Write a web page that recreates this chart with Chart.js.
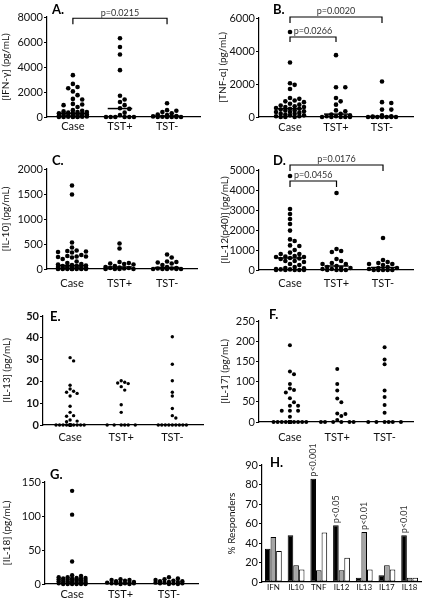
<!DOCTYPE html>
<html>
<head>
<meta charset="utf-8">
<script src="https://cdn.jsdelivr.net/npm/chart.js@4.4.0/dist/chart.umd.min.js"></script>
<style>
  html, body { margin: 0; padding: 0; background: #fff; }
  #page { position: relative; width: 425px; height: 601px; }
  #page canvas { position: absolute; left: 0; top: 0; }
</style>
</head>
<body>
<div id="page"></div>
<script>
const groupLabels = ['Case', 'TST+', 'TST-'];

// A. IFN-gamma
const ifnCase = [3350, 2650, 2400, 2300, 2050, 1750, 1450, 1400, 1050, 1000, 950, 800, 550, 500, 450, 400, 400, 350, 300, 300, 250, 250, 200, 200, 150, 150, 100, 100, 100, 50, 50, 50, 20, 20, 10, 0, 0, 0];
const ifnTstPos = [6300, 5600, 5000, 3750, 1700, 1400, 1200, 950, 700, 650, 350, 150, 0, 0, 0, 0, 0, 0];
const ifnTstNeg = [1100, 550, 500, 400, 300, 200, 150, 80, 50, 20, 0, 0, 0, 0, 0];

// B. TNF-alpha
const tnfCase = [5150, 3300, 2050, 1950, 1700, 1150, 1100, 1000, 950, 900, 800, 750, 700, 650, 600, 600, 550, 500, 500, 450, 400, 400, 350, 300, 300, 250, 200, 200, 150, 100, 100, 50, 50, 0, 0, 0];
const tnfTstPos = [3750, 1800, 1800, 1150, 950, 750, 400, 350, 200, 150, 100, 50, 50, 0, 0, 0, 0, 0];
const tnfTstNeg = [2150, 900, 850, 450, 450, 100, 50, 30, 0, 0, 0, 0, 0, 0, 0];

// C. IL-10
const il10Case = [1670, 1490, 530, 430, 370, 360, 350, 340, 330, 280, 260, 250, 250, 240, 230, 200, 150, 120, 100, 90, 80, 70, 60, 60, 50, 50, 40, 40, 30, 30, 20, 20, 10, 10, 10, 0, 0, 0, 0, 0, 0, 0, 0];
const il10TstPos = [510, 410, 140, 120, 110, 100, 90, 60, 40, 30, 20, 20, 10, 0, 0, 0, 0];
const il10TstNeg = [290, 230, 150, 140, 130, 110, 80, 40, 20, 10, 10, 0, 0, 0, 0, 0];

// D. IL-12(p40)
const il12Case = [4700, 3050, 2800, 2550, 2300, 1970, 1530, 1450, 1230, 1200, 1000, 870, 800, 800, 700, 670, 650, 650, 600, 580, 550, 450, 450, 400, 300, 250, 150, 100, 80, 50, 30, 30, 0, 0, 0, 0, 0];
const il12TstPos = [3850, 1050, 950, 900, 550, 450, 350, 300, 300, 200, 150, 100, 100, 50, 50, 0, 0, 0, 0];
const il12TstNeg = [1600, 500, 400, 350, 300, 300, 250, 150, 100, 100, 50, 0, 0, 0, 0, 0];

// E. IL-13
const il13Case = [30.9, 29.4, 18.2, 16.5, 15.5, 15, 14.5, 13.3, 8.6, 5.8, 4.3, 4, 2.3, 1.8, 1.5, 0, 0, 0, 0, 0, 0, 0, 0, 0, 0, 0, 0, 0, 0, 0, 0, 0, 0, 0, 0];
const il13TstPos = [20.3, 19.6, 19.3, 19, 17.6, 16, 9.3, 5.8, 0, 0, 0, 0, 0, 0];
const il13TstNeg = [40.5, 27.9, 20.3, 15, 13.3, 7.6, 4.3, 3.2, 0, 0, 0, 0, 0, 0, 0, 0, 0];

// F. IL-17
const il17Case = [190, 125, 118, 94, 83, 79, 73, 59, 49, 40, 40, 28, 28, 28, 13, 0, 0, 0, 0, 0, 0, 0, 0, 0, 0, 0, 0, 0, 0, 0, 0];
const il17TstPos = [131, 94, 78, 58, 49, 21, 20, 15, 5, 0, 0, 0, 0, 0, 0];
const il17TstNeg = [185, 155, 143, 78, 62, 42, 23, 0, 0, 0, 0, 0, 0];

// G. IL-18
const il18Case = [137, 102, 33, 13, 12, 10, 10, 9, 9, 8, 8, 8, 7, 7, 7, 6, 6, 5, 5, 5, 4, 4, 3, 3, 3, 2, 2, 2, 1, 1, 1, 1, 0, 0, 0, 0, 0, 0];
const il18TstPos = [7, 6, 6, 5, 4, 3, 2, 2, 2, 1, 1, 1, 1, 0, 0];
const il18TstNeg = [10, 8, 7, 6, 5, 4, 4, 3, 3, 2, 2, 1, 1, 1, 0, 0];

// H. % responders (values in axis units, printed tick labels below)
const cytokines = ['IFN', 'IL10', 'TNF', 'IL12', 'IL13', 'IL17', 'IL18'];
const respCase = [25.6, 35.9, 79.5, 43.6, 3.3, 5.1, 35.9];
const respTstPos = [34.6, 12.8, 9, 9, 38.5, 12.8, 3.3];
const respTstNeg = [23.8, 9.7, 38, 18.7, 9.7, 9.7, 3.3];
const respTicks = ['0', '20', '40', '60', '70', '80', '90'];
const respNotes = [
    { cat: 2, set: 0, text: 'p<0.001' },
    { cat: 3, set: 0, text: 'p<0.05' },
    { cat: 4, set: 1, text: 'p<0.01' },
    { cat: 6, set: 0, text: 'p<0.01' }
];

const W = 425, H = 601;
Chart.defaults.font.family = 'Lato, "Open Sans", sans-serif';
Chart.defaults.color = '#111';

function makeCanvas() {
    const c = document.createElement('canvas');
    c.width = W;
    c.height = H;
    document.getElementById('page').appendChild(c);
    return c.getContext('2d');
}

function median(arr) {
    const s = arr.slice().sort((a, b) => a - b);
    const n = s.length;
    return n % 2 ? s[(n - 1) / 2] : (s[n / 2 - 1] + s[n / 2]) / 2;
}

// simple beeswarm: spread points sideways so dots don't overlap
function swarm(values, center, pxX, pxY, diam, maxHalf) {
    const order = values.map((v, i) => i).sort((a, b) => values[b] - values[a]);
    const placed = [];
    const out = [];
    const step = diam * 0.95;
    const kMax = 2 * Math.ceil(maxHalf / step);
    order.forEach(i => {
        const py = values[i] * pxY;
        let best = 0, bestGap = -1;
        for (let k = 0; k <= kMax; k++) {
            const off = (k % 2 ? 1 : -1) * Math.ceil(k / 2) * step;
            if (Math.abs(off) > maxHalf) continue;
            let gap = Infinity;
            placed.forEach(p => {
                const d = Math.hypot(p.ox - off, p.py - py);
                if (d < gap) gap = d;
            });
            if (gap >= diam) { best = off; break; }
            if (gap > bestGap) { bestGap = gap; best = off; }
        }
        placed.push({ ox: best, py: py });
        out.push({ x: center + best / pxX, y: values[i] });
    });
    return out;
}

function extrasPlugin(p) {
    return {
        id: 'extras',
        afterDraw(chart) {
            const ctx = chart.ctx;
            ctx.save();
            ctx.fillStyle = '#000';
            ctx.font = 'bold 13px Lato, sans-serif';
            ctx.textAlign = 'left';
            ctx.textBaseline = 'middle';
            ctx.fillText(p.letter + '.', p.letterPos[0], p.letterPos[1]);

            const xs = chart.scales.x, ys = chart.scales.y;
            (p.brackets || []).forEach(b => {
                const x1 = xs.getPixelForValue(b.from);
                const x2 = xs.getPixelForValue(b.to);
                const y = ys.getPixelForValue(b.y);
                const y2 = ys.getPixelForValue(b.y - b.drop);
                ctx.strokeStyle = '#000';
                ctx.lineWidth = 1.2;
                ctx.beginPath();
                ctx.moveTo(x1, y2);
                ctx.lineTo(x1, y);
                ctx.lineTo(x2, y);
                ctx.lineTo(x2, y2);
                ctx.stroke();
                ctx.fillStyle = '#333';
                ctx.font = '9px Lato, sans-serif';
                ctx.textAlign = 'center';
                ctx.textBaseline = 'bottom';
                ctx.fillText(b.label, (x1 + x2) / 2, y - 1);
            });
            ctx.restore();
        }
    };
}

function scatterPanel(p) {
    const ctx = makeCanvas();
    const pxX = (p.box.R - p.box.L) / (p.xmax - p.xmin);
    const pxY = (p.box.B - p.box.T) / p.ymax;
    const xAxisH = Math.min(26, H - p.box.B);
    const datasets = [];
    p.groups.forEach((vals, g) => {
        datasets.push({
            type: 'scatter',
            data: swarm(vals, g + 1, pxX, pxY, p.r * 2 + 0.3, 17),
            pointRadius: p.r,
            pointBackgroundColor: '#000',
            pointBorderWidth: 0,
            clip: false
        });
    });
    if (p.medians) {
        p.groups.forEach((vals, g) => {
            const m = median(vals);
            datasets.push({
                type: 'line',
                data: [{ x: g + 1 - 0.26, y: m }, { x: g + 1 + 0.26, y: m }],
                borderColor: '#000',
                borderWidth: 1.5,
                pointRadius: 0,
                clip: false
            });
        });
    }

    new Chart(ctx, {
        type: 'scatter',
        data: { datasets: datasets },
        options: {
            responsive: false,
            animation: false,
            events: [],
            layout: {
                padding: { left: p.box.L - p.axisW, top: p.box.T, right: W - p.box.R, bottom: H - p.box.B - xAxisH }
            },
            plugins: { legend: { display: false }, tooltip: { enabled: false } },
            scales: {
                x: {
                    type: 'linear',
                    min: p.xmin,
                    max: p.xmax,
                    afterBuildTicks: s => { s.ticks = groupLabels.map((_, i) => ({ value: i + 1 })); },
                    afterFit: s => { s.height = xAxisH; },
                    grid: { display: false, drawTicks: false, tickLength: 0 },
                    border: { color: '#000', width: 1.2 },
                    ticks: {
                        callback: v => groupLabels[v - 1],
                        padding: p.labelPad,
                        font: { size: 11 },
                        maxRotation: 0,
                        autoSkip: false
                    }
                },
                y: {
                    min: 0,
                    max: p.ymax,
                    afterFit: s => { s.width = p.axisW; },
                    grid: { drawOnChartArea: false, color: '#000', tickLength: 3 },
                    border: { color: '#000', width: 1.2 },
                    ticks: {
                        stepSize: p.step,
                        padding: 1,
                        callback: v => String(v),
                        font: { size: 11, weight: p.boldTicks ? 'bold' : 'normal' }
                    },
                    title: { display: true, text: p.title, padding: 0, font: { size: 10 } }
                }
            }
        },
        plugins: [extrasPlugin(p)]
    });
}

scatterPanel({
    letter: 'A', letterPos: [52, 10],
    box: { L: 47, T: 17, R: 200, B: 117 }, axisW: 47, labelPad: 3, medians: true,
    xmin: 0.45, xmax: 3.7, ymax: 8000, step: 2000, r: 2.3,
    title: '[IFN-\u03b3] (pg/mL)',
    groups: [ifnCase, ifnTstPos, ifnTstNeg],
    brackets: [{ from: 1, to: 3, y: 7900, drop: 480, label: 'p=0.0215' }]
});

scatterPanel({
    letter: 'B', letterPos: [273, 10],
    box: { L: 259, T: 18, R: 413, B: 117 }, axisW: 42, labelPad: 4, medians: true,
    xmin: 0.326, xmax: 3.674, ymax: 6000, step: 2000, r: 2.3,
    title: '[TNF-\u03b1] (pg/mL)',
    groups: [tnfCase, tnfTstPos, tnfTstNeg],
    brackets: [
        { from: 1, to: 3, y: 6060, drop: 360, label: 'p=0.0020' },
        { from: 1, to: 2, y: 4850, drop: 300, label: 'p=0.0266' }
    ]
});

scatterPanel({
    letter: 'C', letterPos: [52, 161],
    box: { L: 47, T: 169, R: 197, B: 269 }, axisW: 47, labelPad: 8, medians: true,
    xmin: 0.474, xmax: 3.63, ymax: 2000, step: 500, r: 2.3,
    title: '[IL-10] (pg/mL)',
    groups: [il10Case, il10TstPos, il10TstNeg]
});

scatterPanel({
    letter: 'D', letterPos: [273, 161],
    box: { L: 259, T: 170, R: 413, B: 270 }, axisW: 40, labelPad: 7, medians: true,
    xmin: 0.333, xmax: 3.645, ymax: 5000, step: 1000, r: 2.3,
    title: '[IL-12(p40)] (pg/mL)',
    groups: [il12Case, il12TstPos, il12TstNeg],
    brackets: [
        { from: 1, to: 3, y: 5250, drop: 300, label: 'p=0.0176' },
        { from: 1, to: 2, y: 4450, drop: 300, label: 'p=0.0456' }
    ]
});

scatterPanel({
    letter: 'E', letterPos: [50, 317],
    box: { L: 43, T: 316, R: 203, B: 425 }, axisW: 42, labelPad: 6,
    xmin: 0.47, xmax: 3.6, ymax: 50, step: 10, r: 1.7, boldTicks: true,
    title: '[IL-13] (pg/mL)',
    groups: [il13Case, il13TstPos, il13TstNeg]
});

scatterPanel({
    letter: 'F', letterPos: [269, 315],
    box: { L: 259, T: 321, R: 413, B: 422 }, axisW: 40, labelPad: 9,
    xmin: 0.347, xmax: 3.6, ymax: 250, step: 50, r: 2.0,
    title: '[IL-17] (pg/mL)',
    groups: [il17Case, il17TstPos, il17TstNeg]
});

scatterPanel({
    letter: 'G', letterPos: [50, 475],
    box: { L: 45, T: 482, R: 198, B: 584 }, axisW: 44, labelPad: 4,
    xmin: 0.44, xmax: 3.6, ymax: 150, step: 50, r: 2.2,
    title: '[IL-18] (pg/mL)',
    groups: [il18Case, il18TstPos, il18TstNeg]
});

// H. grouped bars
(function () {
    const ctx = makeCanvas();
    const box = { L: 262, T: 465, R: 421, B: 582 };
    const common = { borderColor: '#000', borderWidth: 1, borderSkipped: false, categoryPercentage: 0.74, barPercentage: 1 };
    new Chart(ctx, {
        type: 'bar',
        data: {
            labels: cytokines,
            datasets: [
                Object.assign({ data: respCase, backgroundColor: '#000' }, common),
                Object.assign({ data: respTstPos, backgroundColor: '#a5a5a5' }, common),
                Object.assign({ data: respTstNeg, backgroundColor: '#fff' }, common)
            ]
        },
        options: {
            responsive: false,
            animation: false,
            events: [],
            layout: { padding: { left: box.L - 36, top: box.T, right: W - box.R, bottom: H - box.B - 18 } },
            plugins: { legend: { display: false }, tooltip: { enabled: false } },
            scales: {
                x: {
                    afterFit: s => { s.height = 18; },
                    grid: { display: false, drawTicks: false, tickLength: 0 },
                    border: { color: '#000', width: 1.2 },
                    ticks: { padding: 1, font: { size: 8 }, maxRotation: 0, autoSkip: false }
                },
                y: {
                    min: 0,
                    max: 90,
                    afterFit: s => { s.width = 36; },
                    grid: { drawOnChartArea: false, color: '#000', tickLength: 3 },
                    border: { color: '#000', width: 1.2 },
                    ticks: { stepSize: 15, padding: 1, font: { size: 11 }, callback: v => respTicks[Math.round(v / 15)] },
                    title: { display: true, text: '% Responders', padding: 0, font: { size: 10 } }
                }
            }
        },
        plugins: [{
            id: 'notes',
            afterDraw(chart) {
                const c = chart.ctx;
                c.save();
                c.fillStyle = '#000';
                c.font = 'bold 13px Lato, sans-serif';
                c.textBaseline = 'middle';
                c.fillText('H.', 270, 463);
                c.fillStyle = '#333';
                c.font = '9px Lato, sans-serif';
                respNotes.forEach(n => {
                    const bar = chart.getDatasetMeta(n.set).data[n.cat];
                    c.save();
                    c.translate(bar.x, bar.y - 2);
                    c.rotate(-Math.PI / 2);
                    c.textAlign = 'left';
                    c.textBaseline = 'middle';
                    c.fillText(n.text, 0, 0);
                    c.restore();
                });
                c.restore();
            }
        }]
    });
})();
</script>
</body>
</html>
